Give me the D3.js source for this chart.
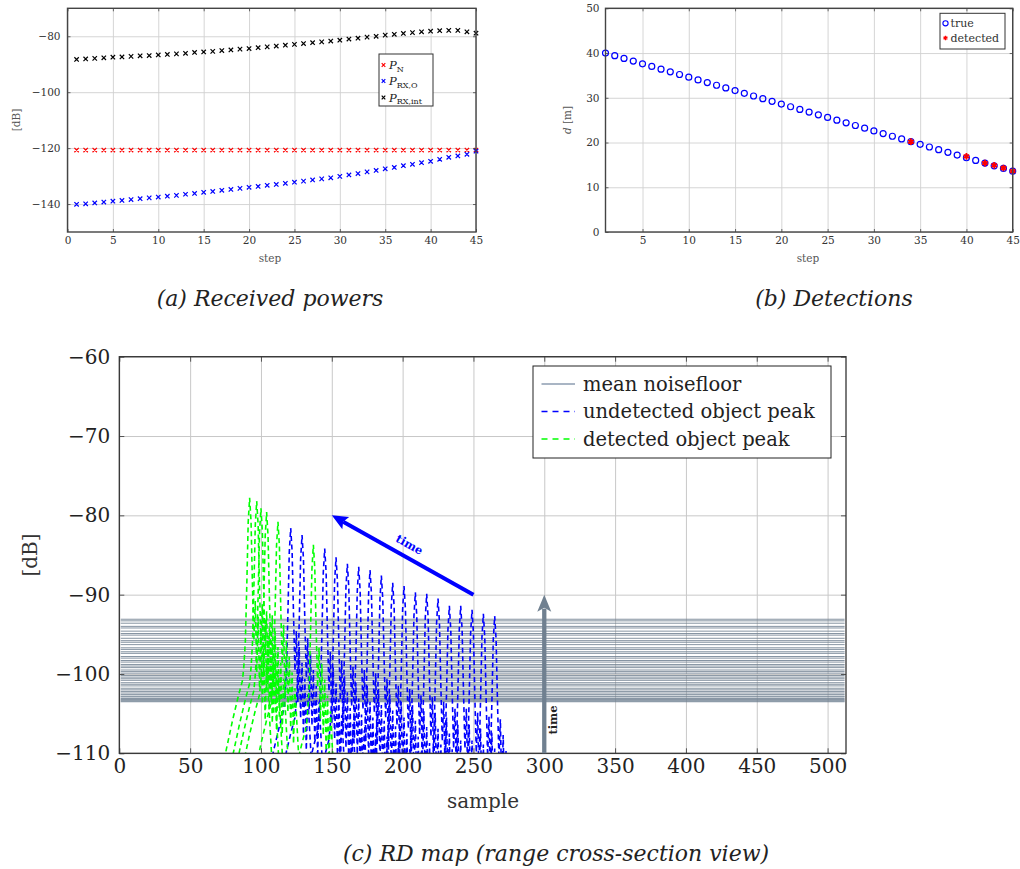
<!DOCTYPE html>
<html><head><meta charset="utf-8">
<script src="https://cdnjs.cloudflare.com/ajax/libs/d3/7.8.5/d3.min.js"></script>
<style>
body{margin:0;background:#fff;}
svg{display:block;}
text{font-family:"DejaVu Serif",serif;}
</style>
</head><body>
<svg id="chart" width="1020" height="869"></svg>
<script>
// ---------- DATA ----------
const steps = [1,2,3,4,5,6,7,8,9,10,11,12,13,14,15,16,17,18,19,20,21,22,23,24,25,26,27,28,29,30,31,32,33,34,35,36,37,38,39,40,41,42,43,44,45];
const pN = [-120.7,-120.7,-120.7,-120.7,-120.7,-120.7,-120.7,-120.7,-120.7,-120.7,-120.7,-120.7,-120.7,-120.7,-120.7,-120.7,-120.7,-120.7,-120.7,-120.7,-120.7,-120.7,-120.7,-120.7,-120.7,-120.7,-120.7,-120.7,-120.7,-120.7,-120.7,-120.7,-120.7,-120.7,-120.7,-120.7,-120.7,-120.7,-120.7,-120.7,-120.7,-120.7,-120.7,-120.7,-120.7];
const pRxO = [-140.1,-139.9,-139.6,-139.3,-139.0,-138.7,-138.4,-138.1,-137.8,-137.5,-137.2,-136.9,-136.5,-136.2,-135.8,-135.5,-135.1,-134.8,-134.4,-134.0,-133.7,-133.3,-133.0,-132.6,-132.2,-131.8,-131.4,-131.0,-130.6,-130.1,-129.6,-129.1,-128.5,-128.0,-127.4,-126.9,-126.3,-125.8,-125.2,-124.7,-124.0,-123.3,-122.8,-122.2,-121.1];
const pRxInt = [-88.3,-88.1,-87.9,-87.7,-87.5,-87.4,-87.2,-87.0,-86.9,-86.7,-86.5,-86.3,-86.1,-85.8,-85.6,-85.4,-85.1,-84.9,-84.6,-84.4,-84.1,-83.8,-83.5,-83.2,-82.9,-82.6,-82.3,-82.0,-81.7,-81.4,-81.0,-80.7,-80.3,-80.0,-79.6,-79.3,-79.0,-78.7,-78.4,-78.2,-78.0,-77.9,-77.9,-78.4,-78.9];

const dTrue = [40.0,39.4,38.8,38.2,37.6,37.0,36.4,35.8,35.2,34.6,34.0,33.4,32.8,32.2,31.6,31.0,30.4,29.8,29.2,28.6,28.0,27.4,26.8,26.2,25.6,25.0,24.4,23.8,23.2,22.6,22.0,21.4,20.8,20.2,19.6,19.0,18.4,17.8,17.2,16.6,16.0,15.4,14.8,14.2,13.6];
const detSteps = [34,40,42,43,44,45];
const dDetected = [20.2,16.9,15.4,14.9,14.3,13.6];

const noisefloor = [-93.1,-93.3,-93.6,-94.0,-94.2,-94.6,-94.9,-95.1,-95.5,-95.8,-96.0,-96.3,-96.7,-96.9,-97.2,-97.4,-97.8,-98.0,-98.3,-98.5,-98.8,-99.0,-99.2,-99.5,-99.7,-99.9,-100.2,-100.4,-100.6,-100.8,-101.1,-101.3,-101.5,-101.8,-102.0,-102.2,-102.4,-102.6,-102.8,-102.9,-103.1,-103.2,-103.3,-103.4,-103.5];
const undetSample = [121,129,145,153,161,169,177,185,193,201,209,217,225,233,241,249,257,265];
const undetPeak = [-81.6,-82.5,-84.2,-85.3,-86.1,-86.5,-86.9,-87.6,-88.5,-88.9,-89.7,-89.9,-90.5,-91.4,-91.4,-91.9,-92.4,-92.7];
const detSample = [92,97,100,104,112,137];
const detPeak = [-77.8,-78.2,-79.1,-79.6,-80.8,-83.7];
// peak shape (sample offset, dB relative to peak)
const profOffsets = [-18,-12,-8,-5,-4,-3,-2,-1,0,1,2,3,4,5,6,7,8,9,10,11,12,16];
const profRel = [-33,-28,-25,-23,-21,-18,-11,-3,0,-3,-11,-18,-13,-22,-15,-24,-17,-26,-19,-28,-21,-34];

const ticksA_x = [0,5,10,15,20,25,30,35,40,45];
const ticksA_y = [-140,-120,-100,-80];
const ticksB_x = [5,10,15,20,25,30,35,40,45];
const ticksB_y = [0,10,20,30,40,50];
const ticksC_x = [0,50,100,150,200,250,300,350,400,450,500];
const ticksC_y = [-110,-100,-90,-80,-70,-60];

// ---------- HELPERS ----------
const svg = d3.select("#chart");

function panel(x, y, xt, yt, o) {
  const g = svg.append("g");
  const [x0, x1] = x.range(), [y0, y1] = y.range();
  g.append("g").attr("transform", `translate(0,${y0})`)
    .call(d3.axisBottom(x).tickValues(xt).tickSize(-(y0 - y1)).tickFormat(""))
    .call(a => { a.select(".domain").remove(); a.selectAll("line").attr("stroke", o.grid).attr("stroke-width", o.gridW); });
  g.append("g").attr("transform", `translate(${x0},0)`)
    .call(d3.axisLeft(y).tickValues(yt).tickSize(-(x1 - x0)).tickFormat(""))
    .call(a => { a.select(".domain").remove(); a.selectAll("line").attr("stroke", o.grid).attr("stroke-width", o.gridW); });
  return g;
}
function frame(g, x, y, xt, yt, o) {
  const [x0, x1] = x.range(), [y0, y1] = y.range();
  const styleTicks = a => { a.select(".domain").remove(); a.selectAll("line").attr("stroke", o.axis).attr("stroke-width", 0.8); a.selectAll("text").remove(); };
  g.append("g").attr("transform", `translate(0,${y0})`).call(d3.axisBottom(x).tickValues(xt).tickSize(-o.tl)).call(styleTicks);
  g.append("g").attr("transform", `translate(0,${y1})`).call(d3.axisTop(x).tickValues(xt).tickSize(-o.tl)).call(styleTicks);
  g.append("g").attr("transform", `translate(${x0},0)`).call(d3.axisLeft(y).tickValues(yt).tickSize(-o.tl)).call(styleTicks);
  g.append("g").attr("transform", `translate(${x1},0)`).call(d3.axisRight(y).tickValues(yt).tickSize(-o.tl)).call(styleTicks);
  g.append("rect").attr("x", x0).attr("y", y1).attr("width", x1 - x0).attr("height", y0 - y1)
    .attr("fill", "none").attr("stroke", o.axis).attr("stroke-width", o.axisW);
  g.append("g").attr("transform", `translate(0,${y0})`)
    .call(d3.axisBottom(x).tickValues(xt).tickSize(0).tickPadding(o.padX))
    .call(a => { a.select(".domain").remove(); a.selectAll("text").attr("font-family", '"DejaVu Serif",serif').attr("font-size", o.fs).attr("fill", o.txt); });
  g.append("g").attr("transform", `translate(${x0},0)`)
    .call(d3.axisLeft(y).tickValues(yt).tickSize(0).tickPadding(o.padY))
    .call(a => { a.select(".domain").remove(); a.selectAll("text").attr("font-family", '"DejaVu Serif",serif').attr("font-size", o.fs).attr("fill", o.txt); });
}
function crossPath(cx, cy, r) {
  return `M${cx - r},${cy - r}L${cx + r},${cy + r}M${cx - r},${cy + r}L${cx + r},${cy - r}`;
}
function caption(x, y, s) {
  svg.append("text").attr("x", x).attr("y", y).attr("text-anchor", "middle")
    .attr("font-size", 22).attr("font-style", "italic").attr("fill", "#222").text(s);
}

// ---------- (a) Received powers ----------
{
  const x = d3.scaleLinear([0, 45], [67.5, 476]);
  const y = d3.scaleLinear([-150, -70], [232, 8.3]);
  const o = {grid: "#d0d0d0", gridW: 0.9, axis: "#444", axisW: 1.4, tl: 3, padX: 5, padY: 7, fs: 10.5, txt: "#333"};
  const g = panel(x, y, ticksA_x, ticksA_y, o);
  const series = [
    {vals: pN, color: "#ff0000"},
    {vals: pRxO, color: "#0000ff"},
    {vals: pRxInt, color: "#000000"}
  ];
  series.forEach(s => {
    g.append("path").attr("d", steps.map((st, i) => crossPath(x(st), y(s.vals[i]), 2.2)).join(""))
      .attr("stroke", s.color).attr("stroke-width", 1.2).attr("fill", "none");
  });
  frame(g, x, y, ticksA_x, ticksA_y, o);
  g.append("text").attr("transform", "translate(20,120) rotate(-90)").attr("text-anchor", "middle")
    .attr("font-size", 10.5).attr("fill", "#555").text("[dB]");
  g.append("text").attr("x", 270).attr("y", 262).attr("text-anchor", "middle")
    .attr("font-size", 10.5).attr("fill", "#555").text("step");
  const lg = g.append("g");
  lg.append("rect").attr("x", 379).attr("y", 54).attr("width", 54).attr("height", 52)
    .attr("fill", "#fff").attr("stroke", "#333").attr("stroke-width", 1);
  const entries = [{c: "#ff0000", sub: "N", y: 65}, {c: "#0000ff", sub: "RX,O", y: 81}, {c: "#000000", sub: "RX,int", y: 97.5}];
  entries.forEach(e => {
    lg.append("path").attr("d", crossPath(383.5, e.y, 1.8)).attr("stroke", e.c).attr("stroke-width", 1.2);
    const t = lg.append("text").attr("x", 389).attr("y", e.y + 4).attr("font-size", 11.5).attr("fill", "#222");
    t.append("tspan").attr("font-style", "italic").text("P");
    t.append("tspan").attr("dy", 2.5).attr("font-size", 8).text(e.sub);
  });
  caption(270, 306, "(a) Received powers");
}

// ---------- (b) Detections ----------
{
  const x = d3.scaleLinear([1, 45], [605.5, 1012.7]);
  const y = d3.scaleLinear([0, 50], [232, 8.3]);
  const o = {grid: "#d0d0d0", gridW: 0.9, axis: "#444", axisW: 1.4, tl: 3, padX: 5, padY: 6, fs: 10.5, txt: "#333"};
  const g = panel(x, y, ticksB_x, ticksB_y, o);
  g.selectAll("circle.t").data(steps).join("circle").attr("class", "t")
    .attr("cx", d => x(d)).attr("cy", (d, i) => y(dTrue[i])).attr("r", 3)
    .attr("fill", "none").attr("stroke", "#0000ff").attr("stroke-width", 1.2);
  const star = d3.symbol().type(d3.symbolAsterisk).size(30);
  g.selectAll("path.d").data(detSteps).join("path").attr("class", "d")
    .attr("transform", (d, i) => `translate(${x(d)},${y(dDetected[i])})`).attr("d", star)
    .attr("fill", "none").attr("stroke", "#ff0000").attr("stroke-width", 1.8);
  g.selectAll("circle.dd").data(detSteps).join("circle").attr("class", "dd")
    .attr("cx", d => x(d)).attr("cy", (d, i) => y(dDetected[i])).attr("r", 2).attr("fill", "#ff0000");
  frame(g, x, y, ticksB_x, ticksB_y, o);
  const yl = g.append("text").attr("transform", "translate(571,120) rotate(-90)").attr("text-anchor", "middle")
    .attr("font-size", 10.5).attr("fill", "#555");
  yl.append("tspan").attr("font-style", "italic").text("d");
  yl.append("tspan").text(" [m]");
  g.append("text").attr("x", 808).attr("y", 262).attr("text-anchor", "middle")
    .attr("font-size", 10.5).attr("fill", "#555").text("step");
  const lg = g.append("g");
  lg.append("rect").attr("x", 940).attr("y", 13.3).attr("width", 65).attr("height", 35.7)
    .attr("fill", "#fff").attr("stroke", "#333").attr("stroke-width", 1);
  lg.append("circle").attr("cx", 945.5).attr("cy", 23.3).attr("r", 2.6).attr("fill", "none").attr("stroke", "#0000ff").attr("stroke-width", 1.1);
  lg.append("path").attr("transform", "translate(945.5,38)").attr("d", d3.symbol().type(d3.symbolAsterisk).size(14))
    .attr("stroke", "#ff0000").attr("stroke-width", 1.3);
  lg.append("text").attr("x", 950.5).attr("y", 27).attr("font-size", 11).attr("fill", "#333").text("true");
  lg.append("text").attr("x", 950.5).attr("y", 41.5).attr("font-size", 11).attr("fill", "#333").text("detected");
  caption(834, 306, "(b) Detections");
}

// ---------- (c) RD map ----------
{
  const x = d3.scaleLinear([0, 513], [119.3, 846]);
  const y = d3.scaleLinear([-110, -60], [753.3, 356.7]);
  const o = {grid: "#c8c8c8", gridW: 1, axis: "#333", axisW: 1.3, tl: 5, padX: 5.5, padY: 9, fs: 20, txt: "#222"};
  const g = panel(x, y, ticksC_x, ticksC_y, o);
  svg.append("defs").append("clipPath").attr("id", "clipC").append("rect")
    .attr("x", 119.3).attr("y", 356.7).attr("width", 846 - 119.3).attr("height", 753.3 - 356.7);
  const body = g.append("g").attr("clip-path", "url(#clipC)");
  body.selectAll("line.nf").data(noisefloor).join("line").attr("class", "nf")
    .attr("x1", x(1)).attr("x2", x(512)).attr("y1", d => y(d)).attr("y2", d => y(d))
    .attr("stroke", "#708090").attr("stroke-width", 1).attr("stroke-opacity", 0.85);
  const line = d3.line().x(d => x(d[0])).y(d => y(d[1]));
  const peakPts = (s0, p) => profOffsets.map((off, i) => [s0 + off, p + profRel[i]]);
  body.selectAll("path.un").data(undetSample).join("path").attr("class", "un")
    .attr("d", (s, i) => line(peakPts(s, undetPeak[i])))
    .attr("fill", "none").attr("stroke", "#0000ff").attr("stroke-width", 1.6).attr("stroke-dasharray", "5,3.5");
  body.selectAll("path.de").data(detSample).join("path").attr("class", "de")
    .attr("d", (s, i) => line(peakPts(s, detPeak[i])))
    .attr("fill", "none").attr("stroke", "#00ff00").attr("stroke-width", 1.6).attr("stroke-dasharray", "5,3.5");
  frame(g, x, y, ticksC_x, ticksC_y, o);

  // blue "time" arrow
  const ax0 = x(250), ay0 = y(-90), ax1 = x(150), ay1 = y(-80);
  const ang = Math.atan2(ay1 - ay0, ax1 - ax0);
  const hl = 16, hw = 7;
  const bx = ax1 - hl * Math.cos(ang), by = ay1 - hl * Math.sin(ang);
  g.append("line").attr("x1", ax0).attr("y1", ay0).attr("x2", bx + 3 * Math.cos(ang)).attr("y2", by + 3 * Math.sin(ang))
    .attr("stroke", "#0000ff").attr("stroke-width", 4);
  g.append("path").attr("d", `M${ax1},${ay1}L${bx - hw * Math.sin(ang)},${by + hw * Math.cos(ang)}L${bx + 3 * Math.cos(ang)},${by + 3 * Math.sin(ang)}L${bx + hw * Math.sin(ang)},${by - hw * Math.cos(ang)}Z`)
    .attr("fill", "#0000ff");
  const deg = Math.atan2(ay0 - ay1, ax0 - ax1) * 180 / Math.PI;
  g.append("text").attr("transform", `translate(${(ax0 + ax1) / 2 + 1},${(ay0 + ay1) / 2}) rotate(${deg})`)
    .attr("y", -8).attr("text-anchor", "middle").attr("font-size", 11.5).attr("font-weight", "bold")
    .attr("fill", "#0000ff").text("time");

  // gray "time" arrow
  const gx = x(300), gy0 = y(-110), gy1 = y(-90);
  g.append("line").attr("x1", gx).attr("x2", gx).attr("y1", gy0).attr("y2", gy1 + 14)
    .attr("stroke", "#708090").attr("stroke-width", 4.3);
  g.append("path").attr("d", `M${gx},${gy1}L${gx - 7},${gy1 + 17}L${gx},${gy1 + 13}L${gx + 7},${gy1 + 17}Z`).attr("fill", "#708090");
  g.append("text").attr("transform", `translate(${gx + 12.5},${y(-105.8)}) rotate(-90)`)
    .attr("text-anchor", "middle").attr("font-size", 11.5).attr("font-weight", "bold").attr("fill", "#222").text("time");

  g.append("text").attr("transform", "translate(37,555) rotate(-90)").attr("text-anchor", "middle")
    .attr("font-size", 20).attr("fill", "#333").text("[dB]");
  g.append("text").attr("x", 483).attr("y", 808).attr("text-anchor", "middle")
    .attr("font-size", 20).attr("fill", "#333").text("sample");

  const lg = g.append("g");
  lg.append("rect").attr("x", 533).attr("y", 366).attr("width", 298).attr("height", 92)
    .attr("fill", "#fff").attr("stroke", "#222").attr("stroke-width", 1);
  const items = [
    {label: "mean noisefloor", stroke: "#8d9db0", dash: null, w: 1.4, y: 384},
    {label: "undetected object peak", stroke: "#0000ff", dash: "6,5", w: 1.6, y: 411.5},
    {label: "detected object peak", stroke: "#00ff00", dash: "6,5", w: 1.6, y: 439}
  ];
  items.forEach(it => {
    lg.append("line").attr("x1", 541.5).attr("x2", 575).attr("y1", it.y).attr("y2", it.y)
      .attr("stroke", it.stroke).attr("stroke-width", it.w).attr("stroke-dasharray", it.dash);
    lg.append("text").attr("x", 583).attr("y", it.y + 6.5).attr("font-size", 19.5).attr("fill", "#222").text(it.label);
  });

  caption(556, 861, "(c) RD map (range cross-section view)");
}
</script>
</body></html>
